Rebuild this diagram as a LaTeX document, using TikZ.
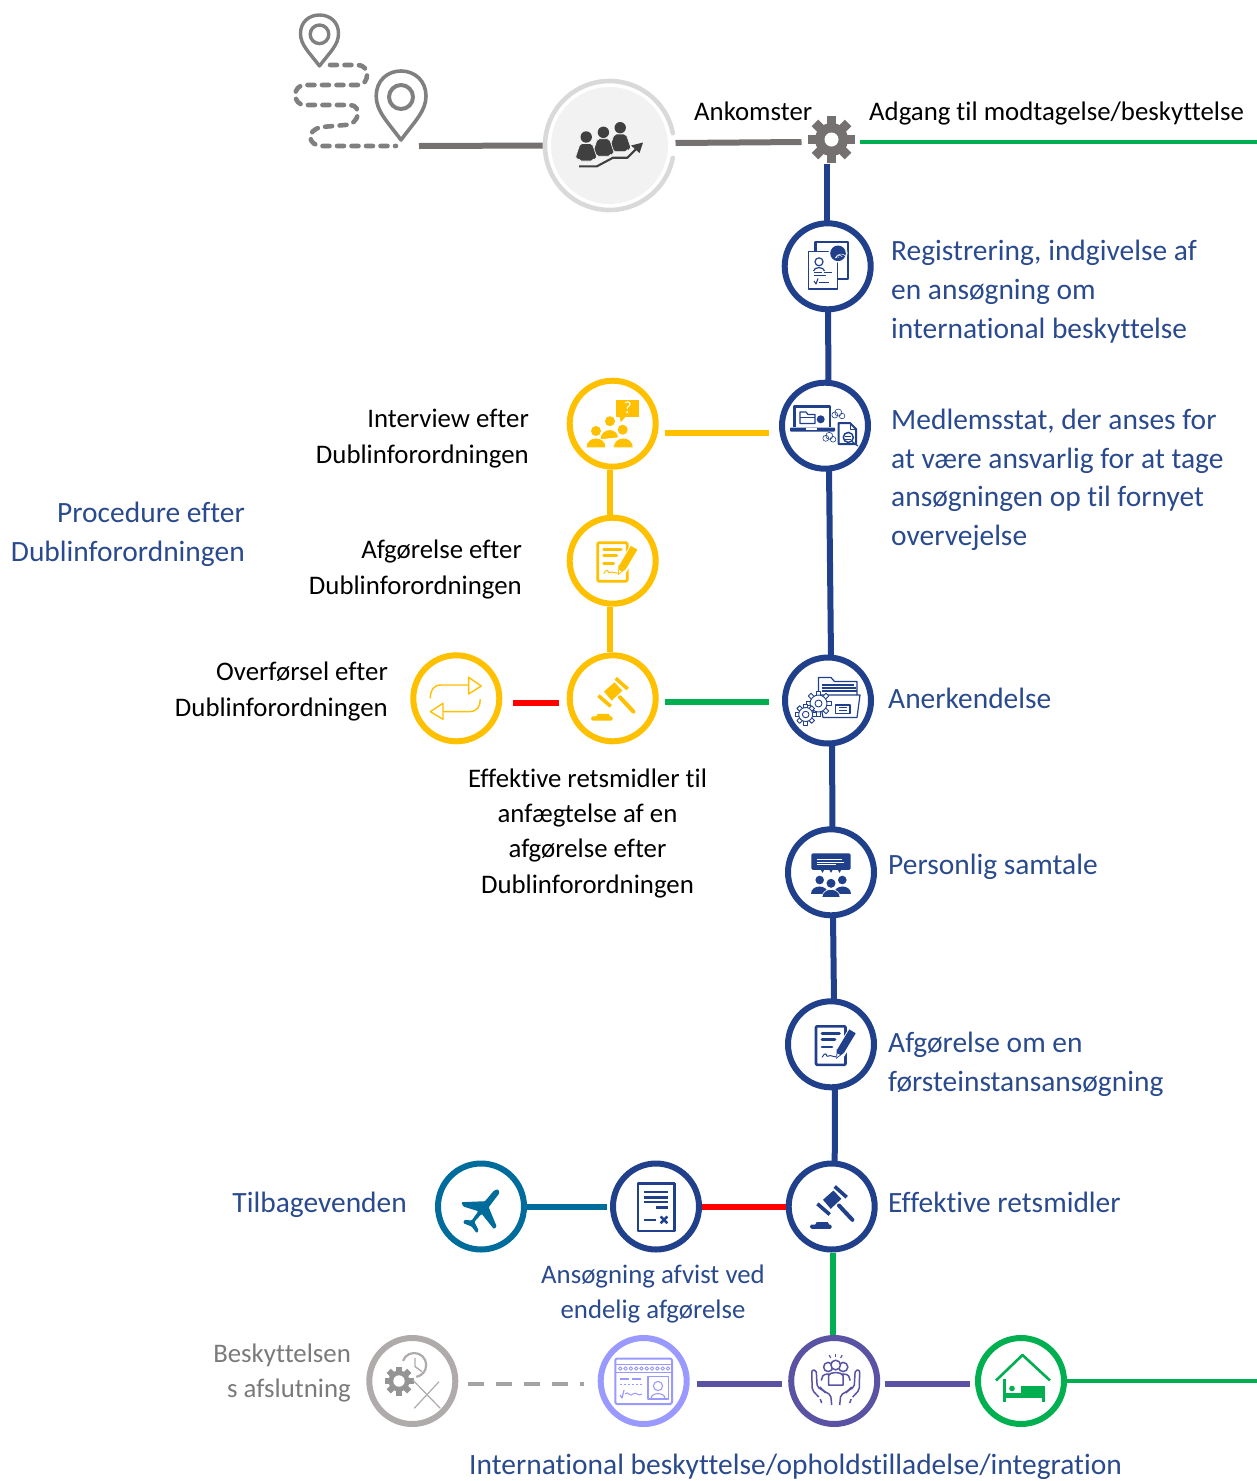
\documentclass[tikz,border=0pt]{standalone}
\usepackage{fontspec}
\setmainfont[Ligatures=CommonOff]{Carlito}
\usetikzlibrary{calc}
\definecolor{navy}{HTML}{20408B}
\definecolor{txtblue}{HTML}{2A4A8E}
\definecolor{amber}{HTML}{FFC000}
\definecolor{leaf}{HTML}{00B050}
\definecolor{teal}{HTML}{006C9B}
\definecolor{lilac}{HTML}{9999FF}
\definecolor{violet}{HTML}{5A53A3}
\definecolor{ash}{HTML}{AFABAB}
\definecolor{slate}{HTML}{767171}
\newcommand{\solidgear}[7]{% x y Rbody Rtooth Rhole colour toothhalfwidth
  \fill[#6] (#1,#2) circle[radius=#3];
  \foreach \a in {0,45,...,315}{\fill[#6,rotate around={\a:(#1,#2)}] ({#1-#7},{#2-#4}) rectangle ({#1+#7},#2);}
  \fill[white] (#1,#2) circle[radius=#5];
}
\newcommand{\linegear}[6]{% x y Rbody Rtooth Rhole colour
  \foreach \a in {0,45,...,315}{\filldraw[#6,fill=white,line width=.9pt,rotate around={\a:(#1,#2)}] ({#1-2},{#2-#4}) rectangle ({#1+2},#2);}
  \filldraw[#6,fill=white,line width=.9pt] (#1,#2) circle[radius=#3];
  \draw[#6,line width=.9pt] (#1,#2) circle[radius=#5];
}
\newcommand{\gavelicon}[2]{% node colour
  \begin{scope}[shift={(#1.center)},#2,fill=#2,draw=#2]
    \draw[line width=3.6pt] (3,-20)--(15,-9.3);
    \draw[line width=3.6pt] (-14.3,-2.7)--(-2,8);
    \fill (-8.7,-6.7)--(1.7,-16)--(9.7,-7.7)--(-1,2.3)--cycle;
    \draw[line width=4pt,line cap=round] (7.3,-1)--(20.7,13.3);
    \fill[rounded corners=1.5pt] (-21.5,22.3) rectangle (0,18);
    \fill (-17,19)--(-15,15.6)--(-4,15.6)--(-2,19)--cycle;
  \end{scope}}
\newcommand{\docpenicon}[2]{%
  \begin{scope}[shift={(#1.center)}]
    \draw[#2,line width=2.6pt,rounded corners=1pt] (-15,-18)rectangle(14.5,20.5);
    \foreach \yy/\xx in {-11/8.5,-5/4,2.7/1}{\draw[#2,line width=2.8pt,line cap=round](-9,\yy)--(\xx,\yy);}
    \draw[#2,line width=1pt] (-9,13)..controls(-6,8)and(-5,9)..(-4,12)..controls(-2,10)and(0,12)..(5,12.5);
    \draw[white,line width=11pt] (22,-12)--(8,10);
    \draw[#2,line width=7.5pt] (21.5,-13)--(9.5,7);
    \fill[#2] (5.8,4.6)--(12.6,8.8)--(5.2,14.5)--cycle;
    \fill[white] (6.5,9.2)--(9,10.5)--(6.1,12.6)--cycle;
  \end{scope}}
\tikzset{
  ring/.style={circle,draw=#1,fill=white,line width=6pt,minimum size=86pt,inner sep=0pt,outer sep=0pt},
  hub/.style={circle,inner sep=0pt,outer sep=0pt,minimum size=#1},
  conn/.style={line width=6pt,draw=#1},
  thin conn/.style={line width=4pt,draw=#1},
  bluetxt/.style={font=\fontsize{29.45}{38.7}\selectfont,text=txtblue,inner sep=0pt},
  blacktxt/.style={font=\fontsize{26.8}{35.3}\selectfont,text=black,inner sep=0pt},
  greytxt/.style={font=\fontsize{26.8}{34.6}\selectfont,text=black!52,inner sep=0pt},
  smallblue/.style={font=\fontsize{26.8}{35}\selectfont,text=txtblue,inner sep=0pt},
}
\begin{document}
\begin{tikzpicture}[x=1pt,y=-1pt,line join=round]
\path[use as bounding box] (0,0) rectangle (1257,1481);

% --- hubs and rings
\node[hub=132pt] (arrive) at (609.5,145.5) {};
\node[hub=48pt] (gear) at (831.5,139.5) {};
\coordinate (pinb) at (419,146);
\coordinate (eastA) at (1257,142);
\coordinate (eastB) at (1257,1381);
\node[ring=navy] (reg) at (827.7,266.3) {};
\node[ring=navy] (med) at (825,425.7) {};
\node[ring=navy] (ane) at (828,700.5) {};
\node[ring=navy] (per) at (831,872.3) {};
\node[ring=navy] (afg) at (831,1044.3) {};
\node[ring=navy] (eff) at (831.7,1206.5) {};
\node[ring=navy] (rej) at (656,1206.5) {};
\node[ring=teal] (tilb) at (481,1206.5) {};
\node[ring=amber] (iv) at (612.7,423.7) {};
\node[ring=amber] (dub) at (612.7,560.7) {};
\node[ring=amber] (gav) at (612.7,698.3) {};
\node[ring=amber] (tra) at (456.3,698.3) {};
\node[ring=ash] (cess) at (412.3,1381) {};
\node[ring=lilac] (card) at (643.7,1381) {};
\node[ring=violet] (hand) at (834.2,1381) {};
\node[ring=leaf] (home) at (1021,1381) {};

% --- connectors
\begin{scope}[line cap=butt]
\draw[conn=slate] (pinb) -- ([yshift=0pt]arrive.west);
\draw[conn=slate] ([shift={(0,-2.5)}]arrive.east) -- ([shift={(-6,2.5)}]gear.west);
\draw[thin conn=leaf] ([shift={(4,2.5)}]gear.east) -- (eastA);
\draw[conn=navy] ([xshift=-4.5pt]gear.south) -- ([xshift=-.7pt]reg.north);
\draw[conn=navy] ([xshift=.3pt]reg.south) -- ([xshift=3.5pt]med.north);
\draw[conn=navy] ([xshift=4pt]med.south) -- ([xshift=3pt]ane.north);
\draw[conn=navy] ([xshift=4pt]ane.south) -- ([xshift=1.5pt]per.north);
\draw[conn=navy] ([xshift=2pt]per.south) -- ([xshift=3pt]afg.north);
\draw[conn=navy] ([xshift=4pt]afg.south) -- ([xshift=3pt]eff.north);
\draw[conn=leaf] ([shift={(1.5,3)}]eff.south) -- ([shift={(-1,-3)}]hand.north);
\draw[conn=amber] ([shift={(9.5,9.5)}]iv.east) -- ([shift={(-13,7.5)}]med.west);
\draw[conn=amber] ([shift={(-3,3)}]iv.south) -- ([shift={(-3,-3)}]dub.north);
\draw[conn=amber] ([shift={(-3,3)}]dub.south) -- ([shift={(-3,-3)}]gav.north);
\draw[conn=leaf] ([shift={(9.5,3.7)}]gav.east) -- ([shift={(-16,1.5)}]ane.west);
\draw[conn=red] ([shift={(-10.7,4.7)}]gav.west) -- ([shift={(13.7,4.7)}]tra.east);
\draw[conn=teal] ([xshift=3pt]tilb.east) -- ([xshift=-6pt]rej.west);
\draw[conn=red] ([xshift=3pt]rej.east) -- ([xshift=-3pt]eff.west);
\draw[conn=violet] ([shift={(10,3)}]card.east) -- ([shift={(-9,3)}]hand.west);
\draw[conn=violet] ([shift={(7.7,3)}]hand.east) -- ([shift={(-8,3)}]home.west);
\draw[thin conn=leaf] ([xshift=3pt]home.east) -- (eastB);
\draw[line width=4.5pt,draw=black!36,dash pattern=on 16pt off 12pt] ([shift={(12.7,3)}]cess.east) -- ([shift={(-16.7,3)}]card.west);
\end{scope}

% --- map pins and the dotted route
\draw[black!50,line width=3.4pt] (319.5,66) .. controls (309,52) and (300.5,45) .. (300.5,33.5) .. controls (300.5,22) and (309,15) .. (319.5,15) .. controls (330,15) and (338.5,22) .. (338.5,33.5) .. controls (338.5,45) and (330,52) .. (319.5,66) -- cycle;
\draw[black!50,line width=3.4pt] (319.5,34.3) circle[radius=9.3];
\draw[black!50,line width=3.6pt] (401,140) .. controls (387,121) and (376.2,111) .. (376.2,96) .. controls (376.2,81) and (387,71) .. (401,71) .. controls (415,71) and (426,81) .. (426,96) .. controls (426,111) and (415,121) .. (401,140) -- cycle;
\draw[black!50,line width=4pt] (401,97) circle[radius=12];
\draw[black!50,line width=4.6pt,line cap=round,dash pattern=on 7pt off 7.5pt] (330,65) -- (358,65) .. controls (370,65) and (370,85) .. (358,85) -- (305,85) .. controls (292,85) and (292,105) .. (305,105) -- (350,105) .. controls (362,105) and (360,125) .. (345,125) -- (322,127) .. controls (305,130) and (308,146) .. (322,146) -- (396,146);

% --- arrivals icon
\draw[black!15,line width=4.6pt,line cap=round] ($(arrive.center)+(11:64.5)$) arc[start angle=11,end angle=349,radius=64.5];
\fill[black!5] (arrive.center) circle[radius=58.5];
\begin{scope}[black!75]
  \foreach \px/\py in {620.2/127.7,603.4/132.3,586.2/137}{
    \fill (\px,\py) circle[radius=5.7];
    \fill[rounded corners=2pt,draw=black!5,line width=.7pt] (\px-6,\py+6.4) -- (\px+6,\py+6.4) -- (\px+11,\py+21) -- (\px+7.5,\py+22) -- (\px+7,\py+24) -- (\px-7,\py+24) -- (\px-7.5,\py+22) -- (\px-11,\py+21) -- cycle;
  }
  \draw[line width=2.1pt] (579,166.3) -- (596.9,166.3) -- (613,157.7) -- (627.5,157.7) -- (639,146);
  \fill (643,142.5) -- (639.5,153) -- (631,145.5) -- cycle;
\end{scope}

% --- gear at arrivals
\solidgear{831.5}{139.5}{16.5}{23.5}{7}{slate}{4.6}

% --- registration icon
\begin{scope}[navy]
  \draw[line width=2.5pt] (815.5,242) rectangle (848,279);
  \filldraw[fill=white,line width=1.3pt] (808.5,251.3) rectangle (837.5,289);
  \fill[white] (838,253) circle[radius=9.5];
  \fill (838,253.3) circle[radius=7.8];
  \foreach \rr in {2,4,6}{\draw[white,line width=.5pt] (835.5,258) arc[start angle=200,end angle=320,radius=\rr];}
  \draw[line width=1.2pt] (819,261.8) circle[radius=4];
  \draw[line width=1.2pt] (813.5,271) .. controls (814,266.5) and (824,266.5) .. (824.5,271);
  \draw[line width=.9pt,dash pattern=on 8pt off 1.5pt] (814,272.5) -- (833,272.5);
  \draw[line width=1.1pt] (814,275.5) -- (826,275.5);
  \draw[line width=1.1pt] (814,281) -- (816,284) -- (818,278.5);
  \draw[line width=.8pt] (819,282) -- (829,282);
\end{scope}

% --- member state icon
\begin{scope}[navy]
  \draw[line width=2.2pt] (794.5,426.5) -- (794.5,406.5) -- (830,406.5) -- (830,426.5);
  \fill[rounded corners=.8pt] (790,427.5) rectangle (835,431.5);
  \fill[white] (806,428.4) rectangle (817,429.5);
  \draw[line width=1.2pt] (800,423.5) -- (800,412) -- (806,412) -- (808,414.5) -- (815,414.5) -- (815,423.5) -- cycle;
  \draw[line width=1.2pt] (800,417.5) -- (815,417.5);
  \fill (820.7,419.3) circle[radius=4];
  \foreach \qx/\qy in {838.3/414,829.3/437.3}{
    \draw[line width=.6pt] (\qx-3.5,\qy+1) circle[radius=3];
    \draw[line width=.6pt] (\qx,\qy-1.5) circle[radius=3.5];
    \draw[line width=.6pt] (\qx+3.8,\qy+2) circle[radius=2.8];
  }
  \draw[line width=2pt] (838.5,423) -- (850,423) -- (856,429) -- (856,444) -- (838.5,444) -- cycle;
  \draw[line width=1pt] (850,423) -- (850,429) -- (856,429);
  \draw[line width=1.5pt] (848.3,437.4) circle[radius=5];
  \draw[line width=1pt] (845,436.5) -- (851,436.5) (845,439) -- (851,439);
  \draw[line width=1.2pt] (852,441.5) -- (858,446);
\end{scope}

% --- recognition icon
\begin{scope}[navy]
  \draw[line width=1.2pt] (818.5,700) -- (818.5,677.5) -- (831,677.5) -- (834.5,681.5) -- (857,681.5) -- (857,695);
  \draw[line width=1.1pt] (822,685) -- (854,685) (822,688) -- (856,688) (822,691) -- (857,691);
  \filldraw[fill=white,line width=1.2pt] (819,695) -- (860,695) -- (857,717.5) -- (823,717.5) -- cycle;
  \draw[line width=1.2pt] (835.7,705) rectangle (850,713.3);
  \draw[line width=.9pt] (839,707.7) -- (847,707.7) (839,710.3) -- (847,710.3);
  \linegear{818.5}{703.5}{8.5}{12.5}{3.5}{navy}
  \linegear{805.7}{714.5}{7}{10.5}{3.3}{navy}
\end{scope}

% --- interview icon
\begin{scope}[shift={(per.center)},navy]
  \fill[rounded corners=1.5pt] (-19.7,-19) rectangle (19.7,-2.5);
  \draw[white,line width=.8pt] (-14.5,-12.8) -- (10.5,-12.8) (-14.5,-10.3) -- (13,-10.3);
  \draw[white,line width=.8pt] (-14.5,-7.8) -- (5,-7.8);
  \foreach \tx in {-8.5,0,8.5}{\fill (\tx-1.7,-2.5) -- (\tx+1.7,-2.5) -- (\tx,.5) -- cycle;}
  \foreach \hx in {-11.3,11.3}{
    \fill (\hx,7.7) circle[radius=4.3];
    \fill (\hx-8.5,21.7) .. controls (\hx-8.5,12) and (\hx+8.5,12) .. (\hx+8.5,21.7) -- cycle;
  }
  \fill[white] (0,11) circle[radius=5.7];
  \fill (0,11) circle[radius=4.5];
  \filldraw[draw=white,line width=.6pt] (-9,25) .. controls (-9,14.5) and (9,14.5) .. (9,25) -- cycle;
\end{scope}

\docpenicon{afg}{navy}
\docpenicon{dub}{amber}
\gavelicon{eff}{navy}
\gavelicon{gav}{amber}

% --- yellow interview icon
\begin{scope}[shift={(iv.center)},amber]
  \fill (3.3,-23.3) rectangle (26.7,-6.7);
  \fill (7,-7) -- (13,-7) -- (8,-1.5) -- cycle;
  \fill (-2.7,-2.5) circle[radius=5];
  \fill (-16.7,7.3) circle[radius=5];
  \fill (10,6) circle[radius=5];
  \fill[draw=white,line width=.7pt] (-12.7,16) .. controls (-12.7,3) and (5.7,3) .. (5.7,14) -- cycle;
  \fill[draw=white,line width=.7pt] (-26.7,24) .. controls (-26.7,11) and (-6.7,11) .. (-6.7,24) -- cycle;
  \fill[draw=white,line width=.7pt] (.7,24) .. controls (.7,11) and (20.7,11) .. (20.7,24) -- cycle;
\end{scope}
\node[font=\fontsize{17}{17}\selectfont,text=white,inner sep=0pt] (ivq) at ([shift={(15,-15.5)}]iv.center) {?};

% --- transfer icon
\begin{scope}[shift={(tra.center)},amber,line width=1.4pt]
  \draw (-26,0) .. controls (-26,-8) and (-23,-13.3) .. (-15,-13.3) -- (12.3,-13.3);
  \draw (12.3,-21) -- (25,-12.3) -- (12.3,-4.3) -- cycle;
  \draw (24,1) .. controls (24,8) and (21,13.3) .. (13,13.3) -- (-13.3,13.3);
  \draw (-13.3,5) -- (-26,13.3) -- (-13.3,21) -- cycle;
\end{scope}

% --- plane icon
\fill[teal,rounded corners=1pt,shift={(tilb.center)}] (17.3,-17.3) -- (18.3,-13.3) -- (7.7,.7) -- (15.7,20) -- (13,22.7) -- (.7,7.3) -- (-6.7,15.3) -- (-2.3,24) -- (-4.3,26.7) -- (-9.3,20) -- (-17.7,16.7) -- (-16.7,13.3) -- (-9.3,14) -- (-2.7,4.7) -- (-17.7,0) -- (-19.7,-4.3) -- (4,-5.3) -- (13,-16) -- cycle;

% --- rejected-application icon
\begin{scope}[shift={(rej.center)},navy]
  \draw[line width=2.4pt] (-18,-23) rectangle (18.5,24.5);
  \draw[line width=2.6pt] (-12,-14.7) -- (12,-14.7) (-12,-9.3) -- (12,-9.3) (-12,-4.7) -- (12,-4.7) (0,.7) -- (12,.7) (-12,13.3) -- (0,13.3);
  \draw[line width=2.5pt] (4.7,10) -- (11.3,16.7) (11.3,10) -- (4.7,16.7);
\end{scope}

% --- cessation icon
\solidgear{399}{1381}{10.5}{14.5}{5.7}{black!42}{3}
\draw[ash,line width=2.2pt] ($(414.2,1365)+(200:12)$) arc[start angle=200,end angle=440,radius=12];
\draw[ash,line width=1.4pt] (415,1358) -- (415,1366.5) -- (422,1371.7);
\draw[ash,line width=1.2pt] (412.8,1380) -- (440.3,1408.3) (439,1381.7) -- (414.2,1408.3);

% --- permit card icon
\begin{scope}[lilac]
  \draw[line width=2pt,rounded corners=2pt] (615.3,1358.5) rectangle (672,1404);
  \draw[line width=1.3pt] (615.3,1364.5) -- (672,1364.5) (615.3,1372.5) -- (672,1372.5);
  \foreach \dx in {0,1,...,9}{\draw[line width=.9pt] ({620.3+5.3*\dx},1368.5) circle[radius=1.8];}
  \draw[line width=1.4pt] (620,1379) -- (628.6,1379) (632,1379) -- (641,1379);
  \draw[line width=1.6pt,dash pattern=on 2pt off 2pt] (620,1384.5) -- (643,1384.5);
  \draw[line width=1.2pt] (620,1395) -- (622,1398) -- (624,1390);
  \draw[line width=1pt] (625,1394) .. controls (628,1390) and (630,1398) .. (633,1394) .. controls (636,1391) and (638,1397) .. (642,1394);
  \draw[line width=1.4pt] (648,1376.7) rectangle (668.5,1399);
  \draw[line width=1.1pt] (658,1386) circle[radius=4.6];
  \draw[line width=1.1pt] (651,1398.5) .. controls (651,1392) and (665,1392) .. (665,1398.5);
\end{scope}

% --- protection icon
\begin{scope}[violet,line width=1.5pt]
  \foreach \mm in {1,-1}{
    \begin{scope}[shift={(835.7,0)},xscale=\mm]
      \draw[rounded corners=2pt] (-17,1397) -- (-23.5,1390) -- (-24,1370) -- (-19.5,1370) -- (-18.5,1387) -- (-5,1395) -- (-4,1405);
      \draw (-15.5,1399) -- (-14,1403);
      \draw (-16,1387) -- (-10,1393);
      \draw (-7.5,1367) circle[radius=4.6];
      \draw (-14.5,1380.5) -- (-13,1376) .. controls (-11,1373.5) and (-6,1373.5) .. (-3,1375);
      \draw[line width=1.1pt] (-5,1358) -- (-6.5,1355);
    \end{scope}
  }
  \filldraw[fill=white] (835.7,1365) circle[radius=4.8];
  \filldraw[fill=white] (828.5,1385) -- (828.5,1375.5) .. controls (830,1371.5) and (841.5,1371.5) .. (843,1375.5) -- (843,1385) -- cycle;
  \draw[line width=1.1pt] (835.7,1353.5) -- (835.7,1357);
\end{scope}

% --- housing icon
\begin{scope}[leaf]
  \draw[line width=2.6pt] (996,1380.5) -- (1022.5,1355) -- (1050,1380.5);
  \draw[line width=3pt] (1004,1379) -- (1004,1401.5);
  \fill (1003,1393) rectangle (1044.5,1398);
  \fill (1021,1386) rectangle (1044.5,1398);
  \fill (1042,1398) rectangle (1044.5,1401.5);
  \fill (1012,1388.5) circle[radius=2.8];
\end{scope}

% --- labels
\node[blacktxt,anchor=base west] (t1) at (694,120) {Ankomster};
\node[blacktxt,anchor=base west] (t2) at (869,120) {Adgang til modtagelse/beskyttelse};
\node[bluetxt,anchor=base west,align=left] (t3) at (891,338) {Registrering, indgivelse af\\en ansøgning om\\international beskyttelse};
\node[bluetxt,anchor=base west,align=left] (t4) at (891,545.5) {Medlemsstat, der anses for\\at være ansvarlig for at tage\\ansøgningen op til fornyet\\overvejelse};
\node[bluetxt,anchor=base west] (t5) at (888,708) {Anerkendelse};
\node[bluetxt,anchor=base west] (t6) at (888,874) {Personlig samtale};
\node[bluetxt,anchor=base west,align=left] (t7) at (888,1091) {Afgørelse om en\\førsteinstansansøgning};
\node[bluetxt,anchor=base west] (t8) at (888,1212) {Effektive retsmidler};
\node[bluetxt,anchor=base east] (t9) at (407,1212) {Tilbagevenden};
\node[smallblue,anchor=base,align=center] (t10) at (653,1318) {Ansøgning afvist ved\\endelig afgørelse};
\node[greytxt,anchor=base east,align=right] (t11) at (351,1397) {Beskyttelsen\\s afslutning};
\node[bluetxt,anchor=base west] (t12) at (469,1474.5) {International beskyttelse/opholdstilladelse/integration};
\node[bluetxt,anchor=base east,align=right] (t13) at (245,561.5) {Procedure efter\\Dublinforordningen};
\node[blacktxt,anchor=base east,align=right] (t14) at (529,463) {Interview efter\\Dublinforordningen};
\node[blacktxt,anchor=base east,align=right] (t15) at (522,594) {Afgørelse efter\\Dublinforordningen};
\node[blacktxt,anchor=base east,align=right] (t16) at (388,716) {Overførsel efter\\Dublinforordningen};
\node[blacktxt,anchor=base,align=center] (t17) at (587.5,893) {Effektive retsmidler til\\anfægtelse af en\\afgørelse efter\\Dublinforordningen};
\end{tikzpicture}
\end{document}
